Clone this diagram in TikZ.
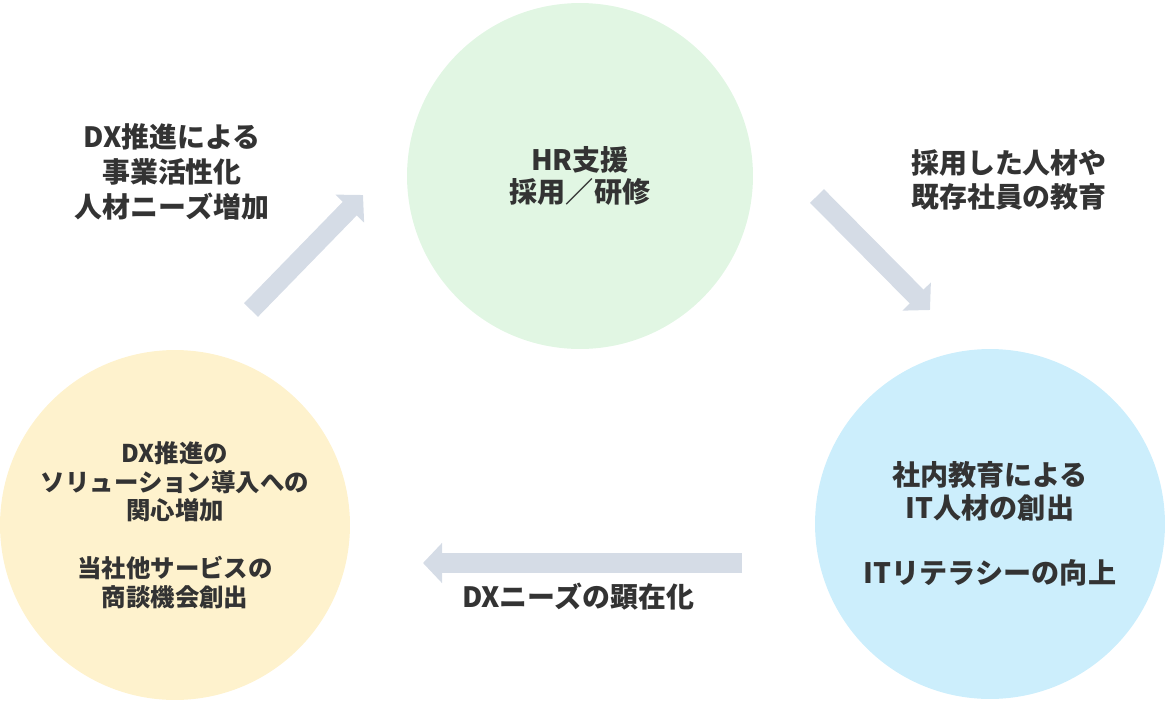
\documentclass[tikz,border=0pt]{standalone}
\usepackage{fontspec}
\setmainfont{Noto Sans CJK JP}
\usetikzlibrary{arrows.meta}
\definecolor{hrgreen}{HTML}{E1F6E3}
\definecolor{dxyellow}{HTML}{FEF2CD}
\definecolor{itblue}{HTML}{CCEEFC}
\definecolor{flowgray}{HTML}{D5DCE6}
\definecolor{textgray}{HTML}{333333}

\begin{document}
\begin{tikzpicture}[x=0.02cm,y=-0.02cm,
 phase/.style={circle,inner sep=0pt,minimum size=7cm,align=center,text=textgray,
 font=\bfseries\fontsize{16}{18.5}\selectfont},
 note/.style={align=center,text=textgray,font=\bfseries\fontsize{15.9}{19.8}\selectfont},
 flowarrow/.style={flowgray,line width=0.39cm,-{Triangle[width=0.78cm,length=0.38cm]}}]
\useasboundingbox (0,0) rectangle (1166,700);
% the three phases
\node[phase,fill=hrgreen,minimum size=6.92cm] (hr) at (580,176) {HR支援\\採用／研修};
\node[phase,fill=itblue] (it) at (990,524) {社内教育による\\IT人材の創出\\[18.5pt]ITリテラシーの向上};
\node[phase,fill=dxyellow,font=\bfseries\fontsize{13.9}{16.4}\selectfont] (dx) at (175,525)
 {DX推進の\\ソリューション導入への\\関心増加\\[16.4pt]当社他サービスの\\商談機会創出};
% labels between the phases
\node[note] (needs) at (172,172) {DX推進による\\事業活性化\\人材ニーズ増加};
\node[note] (train) at (1009,180) {採用した人材や\\既存社員の教育};
\node[note] (demand) at (578,597) {DXニーズの顕在化};
% cycle arrows
\coordinate (up0) at (251,310);
\coordinate (up1) at (363,195);
\coordinate (down0) at (817,196);
\coordinate (down1) at (930,310);
\coordinate (back0) at (742,563);
\coordinate (back1) at (423,563);
\draw[flowarrow] (up0) -- (up1);
\draw[flowarrow] (down0) -- (down1);
\draw[flowarrow] (back0) -- (back1);
\end{tikzpicture}
\end{document}
